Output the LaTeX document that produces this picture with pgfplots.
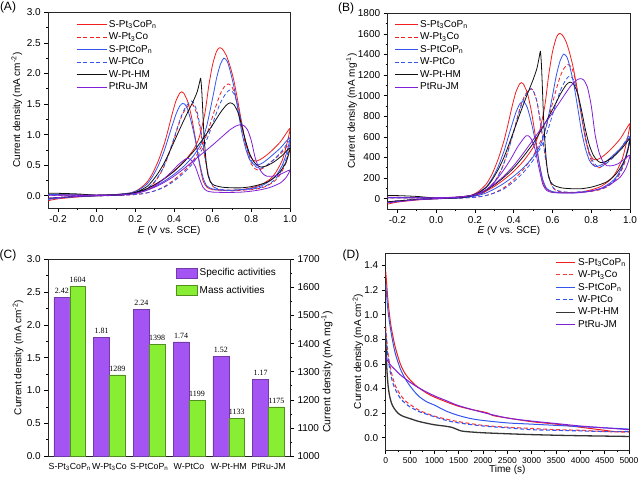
\documentclass[border=0pt]{standalone}
\usepackage{fontspec}
\setmainfont{Liberation Sans}
\newfontfamily\seriffont{Liberation Serif}
\usepackage{pgfplots}
\pgfplotsset{compat=1.18}

\definecolor{cred}{HTML}{F21D1D}
\definecolor{cblue}{HTML}{3355EE}
\definecolor{cpurple}{HTML}{7F1FD6}
\definecolor{cblack}{HTML}{111111}
\definecolor{barpurple}{HTML}{A454F2}
\definecolor{bargreen}{HTML}{88EE33}

\pgfplotsset{
  panel/.style={
    scale only axis, anchor=south west,
    tick align=outside, xtick pos=left, ytick pos=left,
    major tick length=4pt, minor tick length=2pt,
    tick style={black, line width=0.6pt},
    axis line style={line width=0.7pt, black!85},
    tick label style={font=\fontsize{10}{12}\selectfont},
    label style={font=\fontsize{10.5}{12}\selectfont},
    /pgf/number format/assume math mode=true,
    clip mode=individual,
    legend cell align=left,
    legend style={draw=none, fill=none, font=\fontsize{10}{12}\selectfont},
  },
  onedec/.style={/pgf/number format/.cd, fixed, fixed zerofill, precision=1},
  cv/.style={line width=0.8pt, smooth, tension=0.4},
  dashy/.style={dash pattern=on 4pt off 2.5pt},
  longleg/.style={legend image code/.code={\draw[##1] (0pt,0pt) -- (30pt,0pt);}},
  midleg/.style={legend image code/.code={\draw[##1] (0pt,0pt) -- (23pt,0pt);}},
  shortleg/.style={legend image code/.code={\draw[##1] (0pt,0pt) -- (19pt,0pt);}},
  boxleg/.style={legend image code/.code={\draw[##1] (0pt,-5pt) rectangle (21pt,5pt);}},
}

\begin{document}
\begin{tikzpicture}
\useasboundingbox (0pt,0pt) rectangle (640pt,480pt);

% ---------------- (A) specific activity CVs
\begin{axis}[panel, at={(48.3pt,272pt)}, width=241.7pt, height=195.7pt,
  xmin=-0.25, xmax=1.0, ymin=-0.2, ymax=3.0,
  xtick={-0.2,0,0.2,0.4,0.6,0.8,1.0}, minor x tick num=1,
  ytick={0,0.5,1,1.5,2,2.5,3}, minor y tick num=1,
  xticklabel style={onedec}, yticklabel style={onedec},
  xlabel={\textit{E} (V vs. SCE)},
  ylabel={Current density (mA cm\textsuperscript{-2})},
  every axis x label/.style={at={(axis description cs:0.5,-0.116)}, anchor=center},
  every axis y label/.style={at={(axis description cs:-0.13,0.5)}, rotate=90, anchor=center},
  legend style={at={(axis description cs:0.102,0.98)}, anchor=north west},
  longleg]
\addplot[cv, cred] coordinates {
 (-0.25,-0.08) (-0.2,-0.05) (-0.1,-0.02) (0,0) (0.1,0.01) (0.15,0.02) (0.2,0.05) (0.25,0.1) (0.3,0.18) (0.35,0.28) (0.4,0.4) (0.45,0.55) (0.5,0.75) (0.53,0.95) (0.56,1.35) (0.58,1.8) (0.6,2.15) (0.62,2.36) (0.635,2.42) (0.65,2.4) (0.67,2.3) (0.69,2.12) (0.71,1.88) (0.73,1.55) (0.75,1.2) (0.77,0.88) (0.79,0.67) (0.81,0.58) (0.83,0.57) (0.86,0.62) (0.9,0.72) (0.95,0.88) (1.0,1.1)
 (0.98,0.8) (0.96,0.58) (0.93,0.4) (0.9,0.28) (0.85,0.18) (0.8,0.13) (0.75,0.1) (0.7,0.09) (0.65,0.09) (0.6,0.1) (0.57,0.14) (0.55,0.25) (0.53,0.55) (0.51,0.95) (0.49,1.3) (0.47,1.55) (0.45,1.68) (0.44,1.7) (0.43,1.68) (0.41,1.55) (0.39,1.33) (0.37,1.08) (0.35,0.85) (0.32,0.58) (0.29,0.37) (0.26,0.22) (0.22,0.11) (0.18,0.05) (0.1,0.02) (0,0.01) (-0.1,0.015) (-0.2,0.02) (-0.25,0.02)};
\addlegendentry{S-Pt\textsubscript{3}CoP\textsubscript{n}}
\addplot[cv, cred, dashy] coordinates {
 (-0.25,-0.05) (-0.2,-0.03) (-0.1,-0.01) (0,0) (0.1,0.005) (0.2,0.02) (0.25,0.04) (0.3,0.08) (0.35,0.15) (0.4,0.26) (0.45,0.4) (0.5,0.58) (0.55,0.85) (0.58,1.1) (0.61,1.4) (0.64,1.67) (0.66,1.78) (0.68,1.83) (0.7,1.78) (0.72,1.6) (0.74,1.3) (0.76,0.98) (0.78,0.7) (0.8,0.52) (0.82,0.44) (0.84,0.42) (0.87,0.47) (0.9,0.55) (0.95,0.68) (1.0,0.85)
 (0.98,0.55) (0.95,0.35) (0.92,0.24) (0.88,0.16) (0.84,0.12) (0.8,0.1) (0.75,0.09) (0.7,0.08) (0.65,0.09) (0.62,0.11) (0.6,0.16) (0.58,0.3) (0.56,0.62) (0.54,1.0) (0.52,1.32) (0.5,1.48) (0.49,1.5) (0.48,1.49) (0.46,1.42) (0.44,1.3) (0.42,1.12) (0.4,0.92) (0.37,0.65) (0.34,0.42) (0.3,0.22) (0.26,0.11) (0.22,0.05) (0.15,0.02) (0.05,0.01) (-0.1,0.01) (-0.25,0.01)};
\addlegendentry{W-Pt\textsubscript{3}Co}
\addplot[cv, cblue] coordinates {
 (-0.25,-0.06) (-0.2,-0.04) (-0.1,-0.015) (0,0) (0.1,0.01) (0.15,0.02) (0.2,0.04) (0.25,0.08) (0.3,0.15) (0.35,0.24) (0.4,0.35) (0.45,0.48) (0.5,0.65) (0.54,0.85) (0.57,1.15) (0.6,1.6) (0.62,1.92) (0.64,2.15) (0.658,2.25) (0.675,2.2) (0.69,2.05) (0.71,1.78) (0.73,1.42) (0.75,1.05) (0.77,0.78) (0.79,0.6) (0.81,0.52) (0.83,0.5) (0.86,0.54) (0.9,0.64) (0.95,0.78) (1.0,0.95)
 (0.98,0.68) (0.96,0.5) (0.93,0.34) (0.9,0.25) (0.85,0.16) (0.8,0.12) (0.75,0.1) (0.7,0.09) (0.65,0.09) (0.6,0.11) (0.57,0.16) (0.55,0.3) (0.53,0.58) (0.51,0.92) (0.49,1.2) (0.47,1.42) (0.455,1.5) (0.445,1.51) (0.43,1.47) (0.41,1.33) (0.39,1.14) (0.37,0.94) (0.35,0.74) (0.32,0.5) (0.29,0.32) (0.26,0.19) (0.22,0.1) (0.18,0.05) (0.1,0.02) (0,0.01) (-0.1,0.015) (-0.25,0.02)};
\addlegendentry{S-PtCoP\textsubscript{n}}
\addplot[cv, cblue, dashy] coordinates {
 (-0.25,-0.05) (-0.2,-0.03) (-0.1,-0.01) (0,0) (0.1,0.005) (0.2,0.02) (0.25,0.04) (0.3,0.08) (0.35,0.14) (0.4,0.24) (0.45,0.37) (0.5,0.54) (0.55,0.78) (0.58,1.0) (0.61,1.27) (0.64,1.52) (0.67,1.68) (0.69,1.73) (0.71,1.67) (0.73,1.48) (0.75,1.18) (0.77,0.88) (0.79,0.65) (0.81,0.52) (0.83,0.46) (0.85,0.45) (0.88,0.5) (0.92,0.6) (0.96,0.74) (1.0,0.9)
 (0.98,0.6) (0.95,0.38) (0.92,0.26) (0.88,0.17) (0.84,0.13) (0.8,0.11) (0.75,0.1) (0.7,0.09) (0.65,0.1) (0.62,0.12) (0.6,0.17) (0.58,0.32) (0.56,0.65) (0.54,1.05) (0.52,1.37) (0.5,1.53) (0.49,1.55) (0.48,1.53) (0.46,1.45) (0.44,1.32) (0.42,1.14) (0.4,0.94) (0.37,0.66) (0.34,0.43) (0.3,0.23) (0.26,0.12) (0.22,0.06) (0.15,0.02) (0.05,0.01) (-0.1,0.01) (-0.25,0.01)};
\addlegendentry{W-PtCo}
\addplot[cv, cblack] coordinates {
 (-0.25,-0.04) (-0.2,-0.03) (-0.1,-0.01) (0,0) (0.1,0.01) (0.15,0.02) (0.2,0.05) (0.25,0.1) (0.3,0.18) (0.35,0.28) (0.4,0.4) (0.45,0.55) (0.5,0.72) (0.55,0.93) (0.6,1.16) (0.64,1.36) (0.67,1.48) (0.69,1.52) (0.71,1.49) (0.73,1.37) (0.75,1.15) (0.77,0.9) (0.79,0.7) (0.81,0.57) (0.83,0.5) (0.85,0.47) (0.88,0.49) (0.92,0.56) (0.96,0.66) (1.0,0.78)
 (0.98,0.55) (0.95,0.4) (0.92,0.3) (0.88,0.22) (0.84,0.18) (0.8,0.15) (0.75,0.13) (0.7,0.13) (0.65,0.14) (0.61,0.17) (0.59,0.22) (0.575,0.35) (0.565,0.6) (0.555,1.0) (0.548,1.45) (0.543,1.75) (0.538,1.92) (0.532,1.85) (0.52,1.7) (0.5,1.55) (0.47,1.36) (0.44,1.16) (0.41,0.95) (0.38,0.74) (0.35,0.54) (0.32,0.38) (0.29,0.25) (0.26,0.15) (0.22,0.08) (0.18,0.04) (0.1,0.02) (0,0.01) (-0.1,0.03) (-0.2,0.04) (-0.25,0.04)};
\addlegendentry{W-Pt-HM}
\addplot[cv, cpurple] coordinates {
 (-0.25,-0.04) (-0.2,-0.03) (-0.1,-0.01) (0,0) (0.1,0.01) (0.15,0.02) (0.2,0.04) (0.25,0.08) (0.3,0.14) (0.35,0.22) (0.4,0.32) (0.45,0.44) (0.5,0.57) (0.55,0.7) (0.6,0.83) (0.65,0.97) (0.69,1.08) (0.72,1.14) (0.74,1.16) (0.76,1.15) (0.78,1.08) (0.8,0.9) (0.82,0.62) (0.84,0.45) (0.86,0.36) (0.88,0.32) (0.91,0.32) (0.94,0.34) (0.97,0.38) (1.0,0.42)
 (0.98,0.3) (0.95,0.21) (0.9,0.14) (0.85,0.1) (0.8,0.075) (0.75,0.06) (0.7,0.055) (0.65,0.055) (0.6,0.06) (0.57,0.08) (0.55,0.14) (0.53,0.3) (0.51,0.48) (0.49,0.58) (0.475,0.61) (0.465,0.61) (0.45,0.58) (0.42,0.5) (0.39,0.4) (0.36,0.31) (0.33,0.23) (0.3,0.16) (0.26,0.09) (0.22,0.05) (0.18,0.03) (0.1,0.015) (0,0.01) (-0.1,0.01) (-0.25,0.01)};
\addlegendentry{PtRu-JM}
\end{axis}

% ---------------- (B) mass activity CVs
\begin{axis}[panel, at={(387.7pt,271pt)}, width=242.3pt, height=195.7pt,
  xmin=-0.25, xmax=1.0, ymin=-100, ymax=1800,
  xtick={-0.2,0,0.2,0.4,0.6,0.8,1.0}, minor x tick num=1,
  ytick={0,200,400,600,800,1000,1200,1400,1600,1800}, minor y tick num=1,
  xticklabel style={onedec}, yticklabel style={/pgf/number format/1000 sep={}},
  xlabel={\textit{E} (V vs. SCE)},
  ylabel={Current density (mA mg\textsuperscript{-1})},
  every axis x label/.style={at={(axis description cs:0.5,-0.111)}, anchor=center},
  every axis y label/.style={at={(axis description cs:-0.149,0.5)}, rotate=90, anchor=center},
  legend style={at={(axis description cs:0.014,0.985)}, anchor=north west},
  midleg]
\addplot[cv, cred] coordinates {
 (-0.25,-53) (-0.2,-33) (-0.1,-13) (0,0) (0.1,7) (0.15,13) (0.2,33) (0.25,66) (0.3,119) (0.35,186) (0.4,265) (0.45,365) (0.5,497) (0.53,630) (0.56,895) (0.58,1193) (0.6,1425) (0.62,1565) (0.635,1604) (0.65,1591) (0.67,1525) (0.69,1406) (0.71,1246) (0.73,1028) (0.75,796) (0.77,583) (0.79,444) (0.81,385) (0.83,378) (0.86,411) (0.9,477) (0.95,583) (1.0,729)
 (0.98,530) (0.96,385) (0.93,265) (0.9,186) (0.85,119) (0.8,86) (0.75,66) (0.7,60) (0.65,60) (0.6,66) (0.57,93) (0.55,166) (0.53,365) (0.51,630) (0.49,862) (0.47,1028) (0.45,1114) (0.44,1127) (0.43,1114) (0.41,1028) (0.39,882) (0.37,716) (0.35,564) (0.32,385) (0.29,245) (0.26,146) (0.22,73) (0.18,33) (0.1,13) (0,7) (-0.1,10) (-0.2,13) (-0.25,13)};
\addlegendentry{S-Pt\textsubscript{3}CoP\textsubscript{n}}
\addplot[cv, cred, dashy] coordinates {
 (-0.25,-36) (-0.2,-21) (-0.1,-7) (0,0) (0.1,4) (0.2,14) (0.25,28) (0.3,57) (0.35,107) (0.4,185) (0.45,285) (0.5,413) (0.55,605) (0.58,783) (0.61,997) (0.64,1189) (0.66,1267) (0.68,1303) (0.7,1267) (0.72,1139) (0.74,926) (0.76,698) (0.78,498) (0.8,370) (0.82,313) (0.84,299) (0.87,335) (0.9,392) (0.95,484) (1.0,605)
 (0.98,392) (0.95,249) (0.92,171) (0.88,114) (0.84,85) (0.8,71) (0.75,64) (0.7,57) (0.65,64) (0.62,78) (0.6,114) (0.58,214) (0.56,441) (0.54,712) (0.52,940) (0.5,1054) (0.49,1068) (0.48,1061) (0.46,1011) (0.44,926) (0.42,797) (0.4,655) (0.37,463) (0.34,299) (0.3,157) (0.26,78) (0.22,36) (0.15,14) (0.05,7) (-0.1,7) (-0.25,7)};
\addlegendentry{W-Pt\textsubscript{3}Co}
\addplot[cv, cblue] coordinates {
 (-0.25,-37) (-0.2,-25) (-0.1,-9) (0,0) (0.1,6) (0.15,12) (0.2,25) (0.25,50) (0.3,94) (0.35,150) (0.4,218) (0.45,300) (0.5,406) (0.54,530) (0.57,718) (0.6,998) (0.62,1198) (0.64,1342) (0.658,1404) (0.675,1373) (0.69,1279) (0.71,1111) (0.73,886) (0.75,655) (0.77,487) (0.79,374) (0.81,324) (0.83,312) (0.86,337) (0.9,399) (0.95,487) (1.0,593)
 (0.98,424) (0.96,312) (0.93,212) (0.9,156) (0.85,100) (0.8,75) (0.75,62) (0.7,56) (0.65,56) (0.6,69) (0.57,100) (0.55,187) (0.53,362) (0.51,574) (0.49,749) (0.47,886) (0.455,936) (0.445,942) (0.43,917) (0.41,830) (0.39,711) (0.37,587) (0.35,462) (0.32,312) (0.29,200) (0.26,119) (0.22,62) (0.18,31) (0.1,12) (0,6) (-0.1,9) (-0.25,12)};
\addlegendentry{S-PtCoP\textsubscript{n}}
\addplot[cv, cblue, dashy] coordinates {
 (-0.25,-34) (-0.2,-21) (-0.1,-7) (0,0) (0.1,3) (0.2,14) (0.25,28) (0.3,55) (0.35,96) (0.4,165) (0.45,255) (0.5,372) (0.55,537) (0.58,689) (0.61,875) (0.64,1047) (0.67,1158) (0.69,1192) (0.71,1151) (0.73,1020) (0.75,813) (0.77,606) (0.79,448) (0.81,358) (0.83,317) (0.85,310) (0.88,345) (0.92,413) (0.96,510) (1.0,620)
 (0.98,413) (0.95,262) (0.92,179) (0.88,117) (0.84,90) (0.8,76) (0.75,69) (0.7,62) (0.65,69) (0.62,83) (0.6,117) (0.58,220) (0.56,448) (0.54,723) (0.52,944) (0.5,1054) (0.49,1068) (0.48,1054) (0.46,999) (0.44,909) (0.42,785) (0.4,648) (0.37,455) (0.34,296) (0.3,158) (0.26,83) (0.22,41) (0.15,14) (0.05,7) (-0.1,7) (-0.25,7)};
\addlegendentry{W-PtCo}
\addplot[cv, cblack] coordinates {
 (-0.25,-30) (-0.2,-22) (-0.1,-7) (0,0) (0.1,7) (0.15,15) (0.2,37) (0.25,75) (0.3,134) (0.35,209) (0.4,298) (0.45,410) (0.5,536) (0.55,693) (0.6,864) (0.64,1013) (0.67,1103) (0.69,1132) (0.71,1110) (0.73,1021) (0.75,857) (0.77,671) (0.79,522) (0.81,425) (0.83,373) (0.85,350) (0.88,365) (0.92,417) (0.96,492) (1.0,581)
 (0.98,410) (0.95,298) (0.92,224) (0.88,164) (0.84,134) (0.8,112) (0.75,97) (0.7,97) (0.65,104) (0.61,127) (0.59,164) (0.575,261) (0.565,447) (0.555,745) (0.548,1080) (0.543,1304) (0.538,1430) (0.532,1378) (0.52,1267) (0.5,1155) (0.47,1013) (0.44,864) (0.41,708) (0.38,551) (0.35,402) (0.32,283) (0.29,186) (0.26,112) (0.22,60) (0.18,30) (0.1,15) (0,7) (-0.1,22) (-0.2,30) (-0.25,30)};
\addlegendentry{W-Pt-HM}
\addplot[cv, cpurple] coordinates {
 (-0.25,-40) (-0.2,-30) (-0.1,-10) (0,0) (0.1,10) (0.15,20) (0.2,40) (0.25,80) (0.3,141) (0.35,221) (0.4,321) (0.45,442) (0.5,572) (0.55,703) (0.6,833) (0.65,974) (0.69,1084) (0.72,1145) (0.74,1165) (0.76,1155) (0.78,1084) (0.8,904) (0.82,622) (0.84,452) (0.86,361) (0.88,321) (0.91,321) (0.94,341) (0.97,382) (1.0,422)
 (0.98,301) (0.95,211) (0.9,141) (0.85,100) (0.8,75) (0.75,60) (0.7,55) (0.65,55) (0.6,60) (0.57,80) (0.55,141) (0.53,301) (0.51,482) (0.49,582) (0.475,612) (0.465,612) (0.45,582) (0.42,502) (0.39,402) (0.36,311) (0.33,231) (0.3,161) (0.26,90) (0.22,50) (0.18,30) (0.1,15) (0,10) (-0.1,10) (-0.25,10)};
\addlegendentry{PtRu-JM}
\end{axis}

% ---------------- (C) bars, left axis
\begin{axis}[panel, at={(48.3pt,24pt)}, width=241.7pt, height=196.7pt,
  xmin=-0.54, xmax=5.54, ymin=0, ymax=3,
  xtick={0,1,2,3,4,5},
  xticklabels={S-Pt\textsubscript{3}CoP\textsubscript{n}, W-Pt\textsubscript{3}Co, S-PtCoP\textsubscript{n}, W-PtCo, W-Pt-HM, PtRu-JM},
  xticklabel style={font=\fontsize{8.8}{10}\selectfont},
  major x tick style={draw=none},
  ytick={0,0.5,1,1.5,2,2.5,3}, minor y tick num=1,
  yticklabel style={onedec},
  ylabel={Current density (mA cm\textsuperscript{-2})},
  every axis y label/.style={at={(axis description cs:-0.125,0.5)}, rotate=90, anchor=center}]
\addplot[ybar, bar width=0.4, bar shift=-0.2, fill=barpurple, draw=barpurple!70!black, line width=0.5pt,
  nodes near coords, nodes near coords style={font=\seriffont\fontsize{8}{9}\selectfont, text=black, xshift=-7.9pt,
  /pgf/number format/.cd, fixed, fixed zerofill, precision=2}]
  coordinates {(0,2.42) (1,1.81) (2,2.24) (3,1.74) (4,1.52) (5,1.17)};
\end{axis}
% ---------------- (C) bars, right axis
\begin{axis}[panel, at={(48.3pt,24pt)}, width=241.7pt, height=196.7pt,
  xmin=-0.54, xmax=5.54, ymin=1000, ymax=1700,
  axis x line=none, axis y line*=right, ytick pos=right,
  ytick={1000,1100,1200,1300,1400,1500,1600,1700}, minor y tick num=1,
  yticklabel style={/pgf/number format/1000 sep={}},
  legend style={at={(axis description cs:0.516,0.975)}, anchor=north west, row sep=5pt}]
\addlegendimage{boxleg, fill=barpurple, draw=barpurple!70!black}
\addlegendentry{Specific activities}
\addplot[ybar, bar width=0.4, bar shift=0.2, fill=bargreen, draw=bargreen!60!black, line width=0.5pt, boxleg,
  nodes near coords, nodes near coords style={font=\seriffont\fontsize{8}{9}\selectfont, text=black, xshift=7.9pt,
  /pgf/number format/1000 sep={}}]
  coordinates {(0,1604) (1,1289) (2,1398) (3,1199) (4,1133) (5,1175)};
\addlegendentry{Mass activities}
\end{axis}

% ---------------- (D) chronoamperometry
\begin{axis}[panel, at={(385.7pt,30pt)}, width=243.3pt, height=197pt,
  xmin=0, xmax=5000, ymin=-0.1, ymax=1.5,
  xtick={0,500,1000,1500,2000,2500,3000,3500,4000,4500,5000}, minor x tick num=1,
  ytick={0,0.2,0.4,0.6,0.8,1.0,1.2,1.4}, minor y tick num=1,
  xticklabel style={font=\fontsize{8.5}{10}\selectfont, /pgf/number format/1000 sep={}}, yticklabel style={onedec},
  xlabel={Time (s)},
  ylabel={Current density (mA cm\textsuperscript{-2})},
  every axis x label/.style={at={(axis description cs:0.5,-0.102)}, anchor=center},
  every axis y label/.style={at={(axis description cs:-0.114,0.5)}, rotate=90, anchor=center},
  legend style={at={(axis description cs:0.686,0.995)}, anchor=north west},
  shortleg]
\addplot[cred, line width=1pt, smooth] coordinates {
 (0,1.35) (20,1.25) (50,1.1) (100,0.93) (150,0.82) (200,0.73) (300,0.6) (400,0.52) (500,0.47) (600,0.43) (700,0.4) (850,0.36) (1000,0.33) (1250,0.29) (1500,0.255) (1750,0.23) (2000,0.21) (2100,0.2) (2200,0.18) (2500,0.16) (3000,0.13) (3500,0.11) (4000,0.085) (4500,0.06) (4700,0.05) (5000,0.05)};
\addlegendentry{S-Pt\textsubscript{3}CoP\textsubscript{n}}
\addplot[cred!85, line width=1.1pt, dashy, smooth] coordinates {
 (0,0.9) (20,0.8) (50,0.68) (100,0.56) (150,0.48) (200,0.42) (300,0.35) (400,0.3) (500,0.27) (700,0.22) (1000,0.175) (1250,0.15) (1500,0.13) (2000,0.1) (2500,0.085) (3000,0.075) (3500,0.065) (4000,0.06) (4500,0.05) (5000,0.045)};
\addlegendentry{W-Pt\textsubscript{3}Co}
\addplot[cblue, line width=1pt, smooth] coordinates {
 (0,1.25) (20,1.15) (50,1.02) (100,0.88) (150,0.77) (200,0.68) (300,0.56) (400,0.48) (500,0.42) (600,0.37) (700,0.33) (850,0.29) (1000,0.265) (1250,0.215) (1500,0.18) (1750,0.155) (2000,0.14) (2500,0.12) (3000,0.11) (3500,0.1) (4000,0.09) (4500,0.08) (5000,0.07)};
\addlegendentry{S-PtCoP\textsubscript{n}}
\addplot[cblue, line width=1.1pt, dashy, smooth] coordinates {
 (0,0.86) (20,0.76) (50,0.64) (100,0.52) (150,0.44) (200,0.39) (300,0.32) (400,0.28) (500,0.25) (700,0.21) (1000,0.17) (1250,0.14) (1500,0.12) (2000,0.095) (2500,0.08) (3000,0.065) (3500,0.06) (4000,0.055) (4500,0.05) (5000,0.05)};
\addlegendentry{W-PtCo}
\addplot[cblack!85, line width=1.3pt, smooth] coordinates {
 (0,0.82) (10,0.7) (25,0.55) (50,0.42) (80,0.34) (120,0.28) (170,0.24) (250,0.2) (350,0.175) (500,0.155) (700,0.13) (1000,0.105) (1200,0.095) (1350,0.085) (1450,0.07) (1550,0.055) (1700,0.048) (2000,0.04) (2500,0.032) (3000,0.025) (3500,0.02) (4000,0.016) (4500,0.013) (5000,0.01)};
\addlegendentry{W-Pt-HM}
\addplot[cpurple, line width=1pt, smooth] coordinates {
 (0,0.66) (30,0.63) (100,0.59) (200,0.55) (300,0.51) (400,0.48) (500,0.45) (700,0.4) (1000,0.34) (1250,0.3) (1500,0.26) (2000,0.205) (2500,0.16) (3000,0.135) (3500,0.115) (4000,0.095) (4500,0.08) (5000,0.065)};
\addlegendentry{PtRu-JM}
\end{axis}

% panel letters and the stray label left of (D)
\node[font=\fontsize{12}{14}\selectfont] at (8pt,473pt) {(A)};
\node[font=\fontsize{12}{14}\selectfont] at (346pt,472pt) {(B)};
\node[font=\fontsize{12}{14}\selectfont] at (8pt,225pt) {(C)};
\node[font=\fontsize{12}{14}\selectfont] at (351pt,225pt) {(D)};
\node[rotate=90, font=\fontsize{10.5}{12}\selectfont] at (327pt,108pt) {Current density (mA mg\textsuperscript{-1})};
\end{tikzpicture}
\end{document}
